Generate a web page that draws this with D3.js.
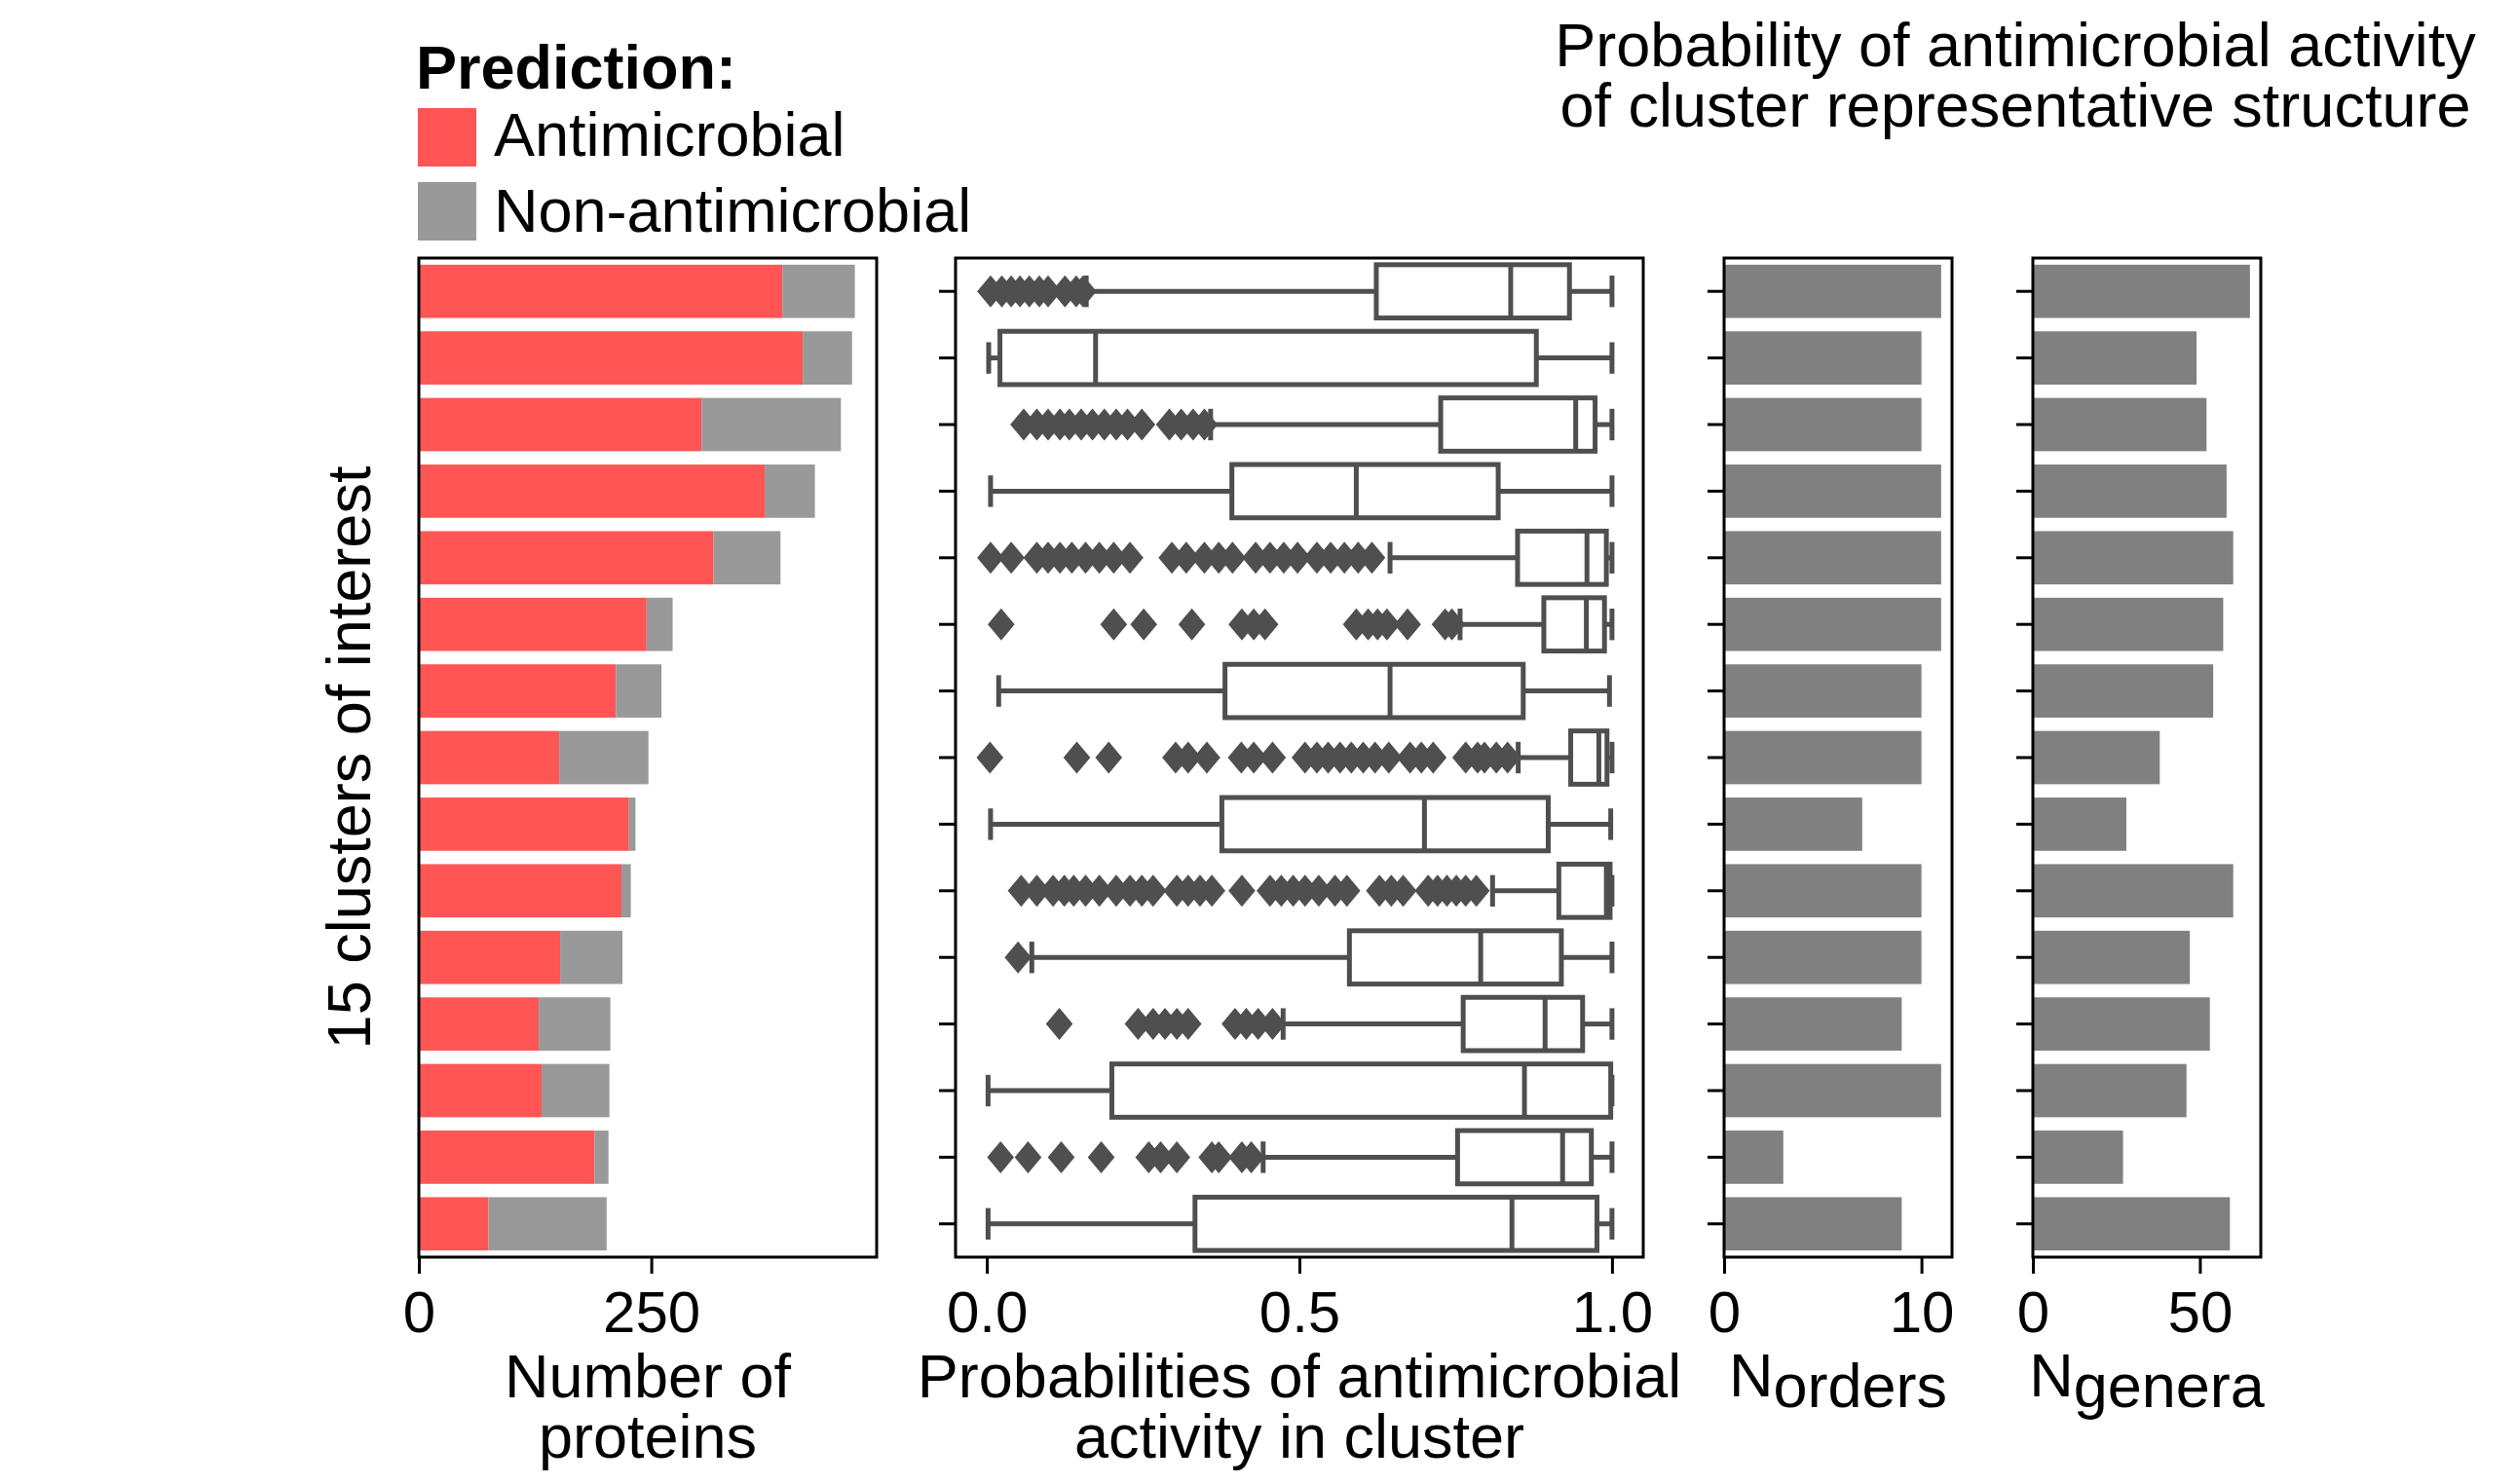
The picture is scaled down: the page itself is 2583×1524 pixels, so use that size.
<!DOCTYPE html>
<html>
<head>
<meta charset="utf-8">
<title>Clusters of interest</title>
<style>
body { margin:0; background:#fff; }
text { font-family: "Liberation Sans", Arial, sans-serif; fill:#000; }
</style>
</head>
<body>
<div id="chart"></div>
<script src="https://d3js.org/d3.v7.min.js"></script>
<script>
// datos (15 clusters, de arriba a abajo)
var clusters = ["c1","c2","c3","c4","c5","c6","c7","c8","c9","c10","c11","c12","c13","c14","c15"];

// numero de proteinas por prediccion
var amp    = [391, 413, 304, 372, 317, 245, 212, 151, 226, 218, 152, 129, 132, 189, 75];
var nonAmp = [ 78,  53, 150,  54,  72,  28,  49,  96,   7,  10,  67,  77,  73,  15, 127];

// numero de ordenes y generos
var nOrders = [11, 10, 10, 11, 11, 11, 10, 10, 7, 10, 10, 9, 11, 3, 9];
var nGenera = [65, 49, 52, 58, 60, 57, 54, 38, 28, 60, 47, 53, 46, 27, 59];

// estadisticos de las cajas (probabilidades)
var whiskLo = [0.159, 0.003, 0.358, 0.006, 0.645, 0.757, 0.019, 0.850, 0.006, 0.809, 0.072, 0.474, 0.002, 0.442, 0.002];
var q1      = [0.623, 0.021, 0.726, 0.392, 0.849, 0.891, 0.381, 0.934, 0.376, 0.915, 0.580, 0.762, 0.200, 0.753, 0.333];
var med     = [0.838, 0.174, 0.942, 0.591, 0.960, 0.959, 0.645, 0.979, 0.700, 0.991, 0.790, 0.893, 0.860, 0.921, 0.840];
var q3      = [0.932, 0.879, 0.973, 0.818, 0.991, 0.988, 0.858, 0.992, 0.898, 0.997, 0.919, 0.953, 0.998, 0.967, 0.976];
var whiskHi = [1.0, 1.0, 1.0, 1.0, 1.0, 1.0, 0.996, 1.0, 0.998, 1.0, 1.0, 1.0, 1.0, 1.0, 1.0];
var fliers = [
  [0.006, 0.024, 0.039, 0.053, 0.068, 0.084, 0.098, 0.125, 0.143, 0.154],
  [],
  [0.059, 0.080, 0.098, 0.117, 0.132, 0.151, 0.169, 0.188, 0.207, 0.225, 0.248, 0.292, 0.311, 0.330, 0.348],
  [],
  [0.006, 0.039, 0.080, 0.098, 0.117, 0.136, 0.158, 0.180, 0.203, 0.229, 0.296, 0.319, 0.348, 0.371, 0.393, 0.430, 0.453, 0.475, 0.497, 0.528, 0.550, 0.572, 0.594, 0.616],
  [0.023, 0.203, 0.251, 0.328, 0.408, 0.427, 0.445, 0.591, 0.610, 0.625, 0.640, 0.673, 0.733, 0.744],
  [],
  [0.005, 0.144, 0.195, 0.302, 0.322, 0.352, 0.407, 0.427, 0.457, 0.509, 0.528, 0.546, 0.565, 0.583, 0.602, 0.621, 0.643, 0.677, 0.695, 0.714, 0.766, 0.785, 0.796, 0.815, 0.833],
  [],
  [0.055, 0.080, 0.106, 0.124, 0.139, 0.158, 0.180, 0.207, 0.229, 0.248, 0.266, 0.304, 0.322, 0.341, 0.360, 0.408, 0.453, 0.471, 0.490, 0.509, 0.531, 0.557, 0.576, 0.628, 0.647, 0.666, 0.706, 0.721, 0.736, 0.751, 0.766, 0.783],
  [0.050],
  [0.116, 0.242, 0.266, 0.285, 0.304, 0.322, 0.397, 0.415, 0.434, 0.457],
  [],
  [0.022, 0.066, 0.119, 0.183, 0.259, 0.278, 0.304, 0.360, 0.371, 0.408, 0.423],
  []
];

// ticks
var ticksProteins = [0, 250];
var ticksProb = [0, 0.5, 1.0];
var ticksOrders = [0, 10];
var ticksGenera = [0, 50];

var width = 2583, height = 1524;
var yTop = 265, yBot = 1291;
var boxColor = "#4f4f4f";
var fs = 63;      // tamaño de texto
var fsTick = 60;  // tamaño de ticks

var svg = d3.select("#chart")
  .append("svg")
  .attr("width", width)
  .attr("height", height);

var y = d3.scaleBand()
  .domain(clusters)
  .range([yTop, yBot])
  .paddingInner(0.2)
  .paddingOuter(0.1);

var totals = amp.map(function(d, i){ return d + nonAmp[i]; });

var xP = d3.scaleLinear().domain([0, d3.max(totals) * 1.05]).range([430, 900]);
var xB = d3.scaleLinear().domain([-0.05, 1.05]).range([981, 1687]);
var xO = d3.scaleLinear().domain([0, d3.max(nOrders) * 1.05]).range([1770, 2004]);
var xG = d3.scaleLinear().domain([0, d3.max(nGenera) * 1.05]).range([2087, 2321]);

// ejes x
function xAxis(scale, ticks, fmt) {
  var g = svg.append("g")
    .attr("transform", "translate(0," + yBot + ")")
    .call(d3.axisBottom(scale).tickValues(ticks).tickFormat(fmt).tickSize(17).tickSizeOuter(0));
  g.attr("font-size", fsTick).attr("font-family", "Liberation Sans, Arial, sans-serif");
  g.select(".domain").remove();
  g.selectAll(".tick line").attr("stroke", "#000").attr("stroke-width", 3);
  g.selectAll(".tick text").attr("y", 77).attr("dy", null).attr("fill", "#000");
}

// ticks del eje y (sin etiquetas)
function yTicks(x0) {
  var g = svg.append("g")
    .attr("transform", "translate(" + x0 + ",0)")
    .call(d3.axisLeft(y).tickSize(17).tickSizeOuter(0).tickFormat(""));
  g.select(".domain").remove();
  g.selectAll(".tick line").attr("stroke", "#000").attr("stroke-width", 3);
}

function frame(scale) {
  var r = scale.range();
  svg.append("rect")
    .attr("x", r[0]).attr("y", yTop)
    .attr("width", r[1] - r[0]).attr("height", yBot - yTop)
    .attr("fill", "none").attr("stroke", "#000").attr("stroke-width", 3);
}

// 1.- barras apiladas
svg.selectAll(".amp")
  .data(clusters)
  .enter()
  .append("rect")
  .attr("x", xP(0))
  .attr("y", function(d){ return y(d); })
  .attr("width", function(d, i){ return xP(amp[i]) - xP(0); })
  .attr("height", y.bandwidth())
  .attr("fill", "#ff5555");

svg.selectAll(".nonamp")
  .data(clusters)
  .enter()
  .append("rect")
  .attr("x", function(d, i){ return xP(amp[i]); })
  .attr("y", function(d){ return y(d); })
  .attr("width", function(d, i){ return xP(totals[i]) - xP(amp[i]); })
  .attr("height", y.bandwidth())
  .attr("fill", "#999999");

frame(xP);
xAxis(xP, ticksProteins, d3.format("d"));

// 2.- boxplot
var bw = y.bandwidth();
var boxes = svg.append("g").attr("stroke", boxColor).attr("stroke-width", 5);

clusters.forEach(function(c, i){
  var cy = y(c) + bw / 2;
  // bigotes
  boxes.append("line").attr("x1", xB(whiskLo[i])).attr("x2", xB(q1[i])).attr("y1", cy).attr("y2", cy);
  boxes.append("line").attr("x1", xB(q3[i])).attr("x2", xB(whiskHi[i])).attr("y1", cy).attr("y2", cy);
  // caja
  boxes.append("rect")
    .attr("x", xB(q1[i])).attr("y", y(c))
    .attr("width", xB(q3[i]) - xB(q1[i])).attr("height", bw)
    .attr("fill", "#fff");
  // mediana
  boxes.append("line").attr("x1", xB(med[i])).attr("x2", xB(med[i])).attr("y1", y(c)).attr("y2", y(c) + bw);
  // topes
  [whiskLo[i], whiskHi[i]].forEach(function(v){
    boxes.append("line")
      .attr("x1", xB(v)).attr("x2", xB(v))
      .attr("y1", cy - bw / 4).attr("y2", cy + bw / 4)
      .attr("stroke-linecap", "square");
  });
});

var points = [];
fliers.forEach(function(arr, i){
  arr.forEach(function(v){ points.push({c: clusters[i], v: v}); });
});

svg.selectAll(".flier")
  .data(points)
  .enter()
  .append("path")
  .attr("d", "M0,-16.5L13.8,0L0,16.5L-13.8,0Z")
  .attr("transform", function(d){ return "translate(" + xB(d.v) + "," + (y(d.c) + bw / 2) + ")"; })
  .attr("fill", boxColor);

frame(xB);
yTicks(981);
xAxis(xB, ticksProb, d3.format(".1f"));

// 3.- ordenes
svg.selectAll(".ord")
  .data(clusters)
  .enter()
  .append("rect")
  .attr("x", xO(0))
  .attr("y", function(d){ return y(d); })
  .attr("width", function(d, i){ return xO(nOrders[i]) - xO(0); })
  .attr("height", bw)
  .attr("fill", "#808080");
frame(xO);
yTicks(1770);
xAxis(xO, ticksOrders, d3.format("d"));

// 4.- generos
svg.selectAll(".gen")
  .data(clusters)
  .enter()
  .append("rect")
  .attr("x", xG(0))
  .attr("y", function(d){ return y(d); })
  .attr("width", function(d, i){ return xG(nGenera[i]) - xG(0); })
  .attr("height", bw)
  .attr("fill", "#808080");
frame(xG);
yTicks(2087);
xAxis(xG, ticksGenera, d3.format("d"));

// texto de varias lineas en un solo elemento
function multiline(x, y0, lines) {
  var t = svg.append("text")
    .attr("x", x).attr("y", y0)
    .attr("text-anchor", "middle")
    .attr("font-size", fs);
  lines.forEach(function(s, k){
    t.append("tspan").attr("x", x).attr("dy", k === 0 ? 0 : 62).text(s);
  });
}

// etiquetas de ejes
multiline((xP.range()[0] + xP.range()[1]) / 2, 1435, ["Number of", "proteins"]);
multiline((xB.range()[0] + xB.range()[1]) / 2, 1435, ["Probabilities of antimicrobial", "activity in cluster"]);

function subLabel(x, sub) {
  var t = svg.append("text")
    .attr("x", x).attr("y", 1434)
    .attr("text-anchor", "middle")
    .attr("font-size", fs);
  t.append("tspan").text("N");
  t.append("tspan").attr("dy", 11).text(sub);
}
subLabel((xO.range()[0] + xO.range()[1]) / 2, "orders");
subLabel((xG.range()[0] + xG.range()[1]) / 2, "genera");

svg.append("text")
  .attr("transform", "translate(380," + ((yTop + yBot) / 2) + ") rotate(-90)")
  .attr("text-anchor", "middle")
  .attr("font-size", fs)
  .text("15 clusters of interest");

// leyenda
svg.append("text")
  .attr("x", 427).attr("y", 91)
  .attr("font-size", fs)
  .attr("font-weight", "bold")
  .text("Prediction:");

var legend = [["Antimicrobial", "#ff5555"], ["Non-antimicrobial", "#999999"]];
legend.forEach(function(d, k){
  svg.append("rect")
    .attr("x", 429).attr("y", 111 + k * 76)
    .attr("width", 60).attr("height", 60)
    .attr("fill", d[1]);
  svg.append("text")
    .attr("x", 507).attr("y", 160 + k * 78)
    .attr("font-size", fs)
    .text(d[0]);
});

// titulo
multiline(2069, 68, ["Probability of antimicrobial activity", "of cluster representative structure"]);
</script>
</body>
</html>
